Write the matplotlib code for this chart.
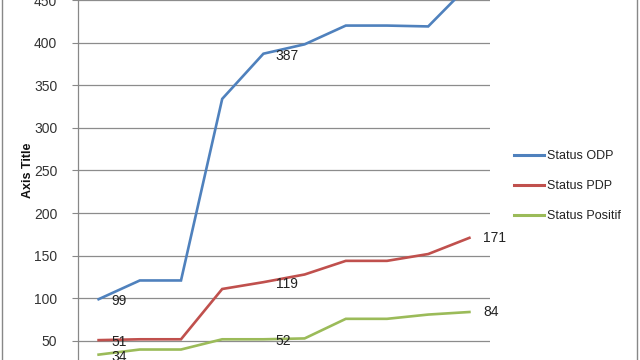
import matplotlib
matplotlib.use('Agg')
import matplotlib.pyplot as plt
from matplotlib.lines import Line2D

# data
x = list(range(1, 11))
odp = [99, 121, 121, 334, 387, 398, 420, 420, 419, 468]
pdp = [51, 52, 52, 111, 119, 128, 144, 144, 152, 171]
positif = [34, 40, 40, 52, 52, 53, 76, 76, 81, 84]
names = ['Status ODP', 'Status PDP', 'Status Positif']
colors = ['#4F81BD', '#C0504D', '#9BBB59']
yticks = [50, 100, 150, 200, 250, 300, 350, 400, 450]

# labelled points (index) per series
lab_odp = [0, 4, 9]
lab_pdp = [0, 4, 9]
lab_pos = [0, 4, 9]

plt.rcParams['font.family'] = ['Liberation Sans', 'DejaVu Sans']

fig = plt.figure(figsize=(6.4, 3.6), dpi=100)
ax = fig.add_axes([78/640, 0, (490-78)/640, 1])

for ys, c, n in zip([odp, pdp, positif], colors, names):
    ax.plot(x, ys, color=c, lw=1.9, label=n, solid_joinstyle='miter')

def put_labels(ys, idx):
    for i in idx:
        if i == len(ys) - 1:
            ax.annotate(str(ys[i]), (x[i], ys[i]), xytext=(10, 0),
                        textcoords='offset points', va='center', ha='left',
                        fontsize=10, color='#222222', annotation_clip=False)
        else:
            ax.annotate(str(ys[i]), (x[i], ys[i]), xytext=(9, -1.5),
                        textcoords='offset points', va='center', ha='left',
                        fontsize=10, color='#222222', annotation_clip=False)

put_labels(odp, lab_odp)
put_labels(pdp, lab_pdp)
put_labels(positif, lab_pos)

ax.set_xlim(0.5, 10.5)
ax.set_ylim(27.7, 449.5)
ax.set_yticks(yticks)
ax.tick_params(axis='y', labelsize=10, colors='#333333', length=4, width=0.8,
               pad=11)
ax.tick_params(axis='y', color='#888888')
ax.set_xticks([])
ax.grid(axis='y', color='#8c8c8c', lw=0.9)
ax.set_axisbelow(True)
for s in ['top', 'right', 'bottom']:
    ax.spines[s].set_visible(False)
ax.spines['left'].set_color('#888888')
ax.spines['left'].set_linewidth(0.9)

fig.text(28/640, 1 - 170/360, 'Axis Title', rotation=90, ha='center', va='center',
         fontsize=9, fontweight='bold', color='#111111')

handles = [Line2D([0], [0], color=c, lw=2.2) for c in colors]
fig.legend(handles, names, loc='center left', bbox_to_anchor=(503/640, 1 - 186/360),
           frameon=False, fontsize=9, handlelength=2.4, handletextpad=0.2,
           labelspacing=1.45, labelcolor='#222222')

# chart border
fig.add_artist(Line2D([1.5/640, 1.5/640], [0, 1], color='#888888', lw=1))
fig.add_artist(Line2D([637/640, 637/640], [0, 1], color='#888888', lw=1))

fig.savefig('out.png', dpi=100)
